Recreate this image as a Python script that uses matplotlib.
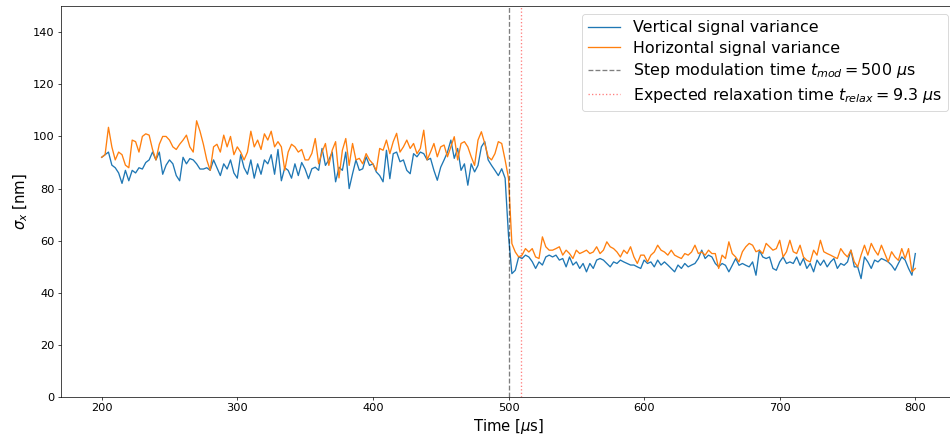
import matplotlib.pyplot as plt
import numpy as np

# sampled every 2.5 us from 200 to 800 us
vertical = [
    92, 93, 94, 89, 88, 86, 82, 87, 83, 87,
    86, 88, 87.5, 90, 91, 94, 91, 94, 85.5, 89,
    91, 89.5, 85, 83, 92, 89.5, 91.5, 91, 89.5, 87.5,
    87.5, 88, 87, 91, 88, 85, 89.5, 87.5, 91, 86,
    84, 93, 88, 85.5, 91, 84, 89.5, 85.5, 91, 89.5,
    93, 85.5, 95, 83, 88, 87, 84, 89.5, 85, 90,
    87.5,
    83.8, 87.6, 88.2, 87, 95.4, 88.9, 91, 94, 82.6, 88.2,
    87, 94, 80, 85.7, 91, 87, 87.6, 92.2, 88.9, 89.5,
    86.4, 85, 82.6, 94.7, 83.8, 93.4, 94, 90.3, 91, 87,
    85.7, 93.4, 92.2, 94, 93.4, 91, 91.6, 87, 83.2, 88.2,
    91, 94, 98.6, 91.6, 95.4, 87, 89.5, 81.3, 89.5, 86.4,
    88.9, 96, 98, 91, 88.9, 87, 85, 87.6, 84, 62,
    47.4, 48.7, 53.8, 53.2, 54.5, 53.8, 52, 49.4, 51.9, 50.7,
    53.8, 54.5, 53.8, 54.5, 52.6, 53.2, 50.0, 53.8, 50.7, 51.9,
    49.4, 51.3, 48.1, 51.3, 49.4, 52.6, 53.2, 52.6, 51.3, 50.0,
    51.9, 51.3, 52.6, 51.9, 51.3, 50.7, 50.7, 50.0, 49.4, 52.6,
    51.3, 51.9, 50.0, 52.6, 50.7, 51.9, 50.7, 49.4, 48.1, 50.7,
    49.4, 51.3, 50.0, 50.7, 51.3, 53.2, 56.4, 53.2, 54.5, 53.8,
    51.3, 50.0, 51.3, 50.6, 48.1, 50.6, 53.2, 50.6, 51.3, 50.6,
    50.0, 51.9, 46.8, 56.4, 53.8, 53.2, 53.8, 49.4, 48.7, 51.9,
    53.8, 51.3, 51.9, 51.3, 53.8, 50.6, 53.2, 49.4, 51.3, 48.1,
    52.6, 50.6, 52.6, 50.0, 51.9, 53.2, 49.4, 51.3, 50.6, 51.9,
    56.4, 50.0, 50.0, 45.5, 53.8, 51.9, 49.4, 52.6, 51.9, 53.2,
    52.6, 51.9, 50.6, 48.7, 51.3, 53.8, 52.6, 49.4, 46.8, 55.1,
]

horizontal = [
    92, 93, 103.5, 96, 91, 94, 93, 89, 88, 98.6,
    98, 94, 100, 101, 100.5, 95, 91, 97, 100, 100,
    98.6, 96, 95, 97, 98.6, 100.5, 96, 94, 106, 102,
    97, 91, 87, 96, 97, 94, 100.5, 96, 100, 93,
    96, 94, 91, 94, 102, 96, 98.6, 95, 101, 98.6,
    102, 96, 98, 96, 87, 94, 97, 96, 94, 95,
    91,
    91, 93.5, 99.2, 89.5, 94, 97.3, 88.9, 94.7, 98, 84.1,
    94.7, 99.2, 88.9, 97.3, 91, 91.6, 89.5, 93.4, 91, 89.5,
    87, 95.4, 94.7, 98.6, 93.4, 98, 101.2, 94, 96, 98.6,
    95.4, 97.3, 93.4, 95.4, 102.4, 91, 94, 97.3, 92.2, 96,
    96.7, 92.2, 96, 99.9, 91, 97.3, 98, 96, 92.2, 88.9,
    98.6, 101.8, 97.3, 92.2, 91, 93.4, 98, 97.3, 91, 84,
    58.9, 55.7, 53.8, 54.5, 57.0, 55.7, 57.0, 53.8, 53.2, 61.5,
    57.7, 56.4, 56.4, 57.0, 57.7, 54.5, 56.4, 55.1, 53.2, 56.4,
    55.1, 55.7, 56.4, 55.1, 55.7, 57.7, 55.1, 56.4, 59.6, 57.7,
    57.0, 55.7, 53.8, 56.4, 55.1, 57.7, 53.8, 51.3, 54.5, 54.5,
    51.9, 54.5, 55.7, 58.3, 56.4, 55.7, 54.5, 56.4, 54.5, 53.8,
    53.2, 55.1, 54.5, 55.7, 58.3, 55.1, 55.7, 54.5, 56.4, 55.1,
    55.1, 49.4, 54.5, 53.2, 59.6, 55.1, 53.8, 51.9, 55.8, 57.7,
    59.0, 58.3, 55.8, 56.4, 55.1, 59.0, 57.7, 56.4, 57.0, 60.2,
    53.8, 55.8, 60.2, 55.8, 55.1, 58.3, 53.8, 52.5, 51.9, 56.4,
    54.5, 60.2, 55.8, 55.1, 54.5, 53.8, 53.2, 57.0, 55.1, 53.8,
    56.4, 51.9, 50.0, 54.5, 58.3, 54.5, 59.0, 56.4, 54.5, 58.3,
    55.1, 51.9, 55.8, 53.8, 52.5, 57.0, 53.2, 57.0, 48.1, 49.4,
]

t_mod = 500
t_relax = 9.3

t = np.linspace(200, 800, len(vertical))

dpi = 63.34
fig = plt.figure(figsize=(950 / dpi, 443 / dpi), dpi=dpi)
ax = fig.add_axes([61 / 950, 45.7 / 443, 895 / 950, 391.3 / 443])

ax.plot(t, vertical, label='Vertical signal variance')
ax.plot(t, horizontal, label='Horizontal signal variance')
ax.axvline(t_mod, color='k', linestyle='--', alpha=0.5,
           label=r'Step modulation time $t_{mod} = 500$ $\mu$s')
ax.axvline(t_mod + t_relax, color='r', linestyle=':', alpha=0.5,
           label=r'Expected relaxation time $t_{relax} = 9.3$ $\mu$s')

ax.set_xlim(170, 830)
ax.set_ylim(0, 150)
ax.set_xlabel(r'Time [$\mu$s]', fontsize=17)
ax.set_ylabel(r'$\sigma_x$ [nm]', fontsize=17)
ax.tick_params(labelsize=13)
ax.legend(loc='upper right', fontsize=18, labelspacing=0.35)

fig.savefig('out.png', dpi=dpi)
